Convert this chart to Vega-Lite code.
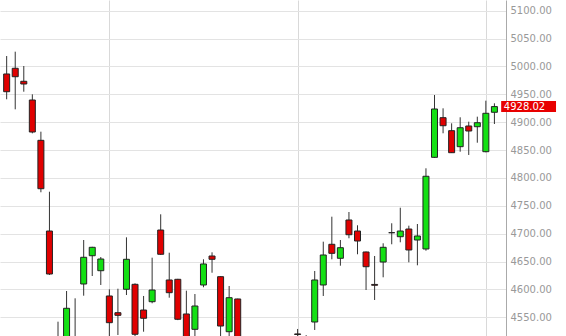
{
  "$schema": "https://vega.github.io/schema/vega-lite/v6.json",
  "width": 506,
  "height": 336,
  "autosize": {"type": "none"},
  "padding": {"left": 0, "top": 0, "right": 60, "bottom": 0},
  "background": "white",
  "view": {"stroke": null},
  "datasets": {
    "candles": [
      {"i": 0, "o": 4986.5, "h": 5018.7, "l": 4941.1, "c": 4954.7},
      {"i": 1, "o": 4996.7, "h": 5026.5, "l": 4923.1, "c": 4981.6},
      {"i": 2, "o": 4973.4, "h": 5000.8, "l": 4954.7, "c": 4968.5},
      {"i": 3, "o": 4939.8, "h": 4950.0, "l": 4880.0, "c": 4882.4},
      {"i": 4, "o": 4867.5, "h": 4883.0, "l": 4774.3, "c": 4780.7},
      {"i": 5, "o": 4704.8, "h": 4775.3, "l": 4626.0, "c": 4627.7},
      {"i": 6, "o": 4505.0, "h": 4542.2, "l": 4470.0, "c": 4480.0},
      {"i": 7, "o": 4495.0, "h": 4597.2, "l": 4485.0, "c": 4566.2},
      {"i": 8, "o": 4512.0, "h": 4584.1, "l": 4480.0, "c": 4500.0},
      {"i": 9, "o": 4609.8, "h": 4688.7, "l": 4588.8, "c": 4657.7},
      {"i": 10, "o": 4660.5, "h": 4676.5, "l": 4624.1, "c": 4675.6},
      {"i": 11, "o": 4633.6, "h": 4658.2, "l": 4608.0, "c": 4654.6},
      {"i": 12, "o": 4588.3, "h": 4600.3, "l": 4505.0, "c": 4540.4},
      {"i": 13, "o": 4558.3, "h": 4601.3, "l": 4518.3, "c": 4553.6},
      {"i": 14, "o": 4600.3, "h": 4693.5, "l": 4590.0, "c": 4654.1},
      {"i": 15, "o": 4609.2, "h": 4611.0, "l": 4515.0, "c": 4519.6},
      {"i": 16, "o": 4563.1, "h": 4588.3, "l": 4524.2, "c": 4548.3},
      {"i": 17, "o": 4578.0, "h": 4657.0, "l": 4575.2, "c": 4599.0},
      {"i": 18, "o": 4706.6, "h": 4734.8, "l": 4662.0, "c": 4663.1},
      {"i": 19, "o": 4617.0, "h": 4665.9, "l": 4585.2, "c": 4594.2},
      {"i": 20, "o": 4618.2, "h": 4619.0, "l": 4545.0, "c": 4546.5},
      {"i": 21, "o": 4556.0, "h": 4597.8, "l": 4495.0, "c": 4505.0},
      {"i": 22, "o": 4528.5, "h": 4591.8, "l": 4505.0, "c": 4570.3},
      {"i": 23, "o": 4608.0, "h": 4654.1, "l": 4603.9, "c": 4645.7},
      {"i": 24, "o": 4660.0, "h": 4666.6, "l": 4630.0, "c": 4654.1},
      {"i": 25, "o": 4622.9, "h": 4623.5, "l": 4505.0, "c": 4534.4},
      {"i": 26, "o": 4524.2, "h": 4606.2, "l": 4515.0, "c": 4585.2},
      {"i": 27, "o": 4582.9, "h": 4583.5, "l": 4490.0, "c": 4500.0},
      {"i": 28, "o": 4498.0, "h": 4510.0, "l": 4462.0, "c": 4470.0},
      {"i": 29, "o": 4472.0, "h": 4495.0, "l": 4448.0, "c": 4485.0},
      {"i": 30, "o": 4480.0, "h": 4500.0, "l": 4440.0, "c": 4450.0},
      {"i": 31, "o": 4455.0, "h": 4490.0, "l": 4430.0, "c": 4478.0},
      {"i": 32, "o": 4475.0, "h": 4505.0, "l": 4455.0, "c": 4495.0},
      {"i": 33, "o": 4492.0, "h": 4512.0, "l": 4470.0, "c": 4505.0},
      {"i": 34, "o": 4520.2, "h": 4529.1, "l": 4500.0, "c": 4519.2},
      {"i": 35, "o": 4505.0, "h": 4518.0, "l": 4490.0, "c": 4512.0},
      {"i": 36, "o": 4541.6, "h": 4633.1, "l": 4527.3, "c": 4617.0},
      {"i": 37, "o": 4608.0, "h": 4685.7, "l": 4588.3, "c": 4661.8},
      {"i": 38, "o": 4681.0, "h": 4730.5, "l": 4654.1, "c": 4664.8},
      {"i": 39, "o": 4655.9, "h": 4688.7, "l": 4642.6, "c": 4674.9},
      {"i": 40, "o": 4724.6, "h": 4738.9, "l": 4691.8, "c": 4698.2},
      {"i": 41, "o": 4704.8, "h": 4715.1, "l": 4663.1, "c": 4686.9},
      {"i": 42, "o": 4667.2, "h": 4668.0, "l": 4599.0, "c": 4640.8},
      {"i": 43, "o": 4609.0, "h": 4660.0, "l": 4581.1, "c": 4607.5},
      {"i": 44, "o": 4649.2, "h": 4682.8, "l": 4621.8, "c": 4675.6},
      {"i": 45, "o": 4701.8, "h": 4718.7, "l": 4681.0, "c": 4701.8},
      {"i": 46, "o": 4694.6, "h": 4746.6, "l": 4684.6, "c": 4704.8},
      {"i": 47, "o": 4708.4, "h": 4714.4, "l": 4648.7, "c": 4670.8},
      {"i": 48, "o": 4688.7, "h": 4717.4, "l": 4643.3, "c": 4695.9},
      {"i": 49, "o": 4672.6, "h": 4817.3, "l": 4669.5, "c": 4803.0},
      {"i": 50, "o": 4837.0, "h": 4948.8, "l": 4836.0, "c": 4923.7},
      {"i": 51, "o": 4908.1, "h": 4924.9, "l": 4880.1, "c": 4893.7},
      {"i": 52, "o": 4884.8, "h": 4898.0, "l": 4845.0, "c": 4845.3},
      {"i": 53, "o": 4856.1, "h": 4908.8, "l": 4847.1, "c": 4890.1},
      {"i": 54, "o": 4893.2, "h": 4900.9, "l": 4841.2, "c": 4884.2},
      {"i": 55, "o": 4891.9, "h": 4909.9, "l": 4863.2, "c": 4899.1},
      {"i": 56, "o": 4847.1, "h": 4938.6, "l": 4846.0, "c": 4916.0},
      {"i": 57, "o": 4917.8, "h": 4933.9, "l": 4896.8, "c": 4928.02}
    ],
    "last": [{"value": 4928.02}]
  },
  "layer": [
    {
      "data": {"name": "candles"},
      "mark": {"type": "rule", "color": "#333333", "strokeWidth": 1, "clip": true},
      "encoding": {
        "x": {
          "field": "i", "type": "quantitative",
          "scale": {"domain": [-0.195, 57.77], "nice": false, "zero": false},
          "axis": {"values": [12, 34, 56], "tickCount": 10, "grid": true, "gridColor": "#d9d9d9", "labels": false, "ticks": false, "domain": false, "title": null}
        },
        "y": {
          "field": "l", "type": "quantitative",
          "scale": {"domain": [4516.5, 5119.2], "nice": false, "zero": false},
          "axis": {
            "orient": "right",
            "values": [4550, 4600, 4650, 4700, 4750, 4800, 4850, 4900, 4950, 5000, 5050, 5100],
            "tickCount": 20,
            "format": ".2f",
            "labelOverlap": false,
            "grid": true, "gridColor": "#e3e3e3",
            "ticks": false, "labelPadding": 4,
            "labelFont": "DejaVu Sans", "labelFontSize": 10, "labelColor": "#999999",
            "domainColor": "#aaaaaa", "title": null
          }
        },
        "y2": {"field": "h"}
      }
    },
    {
      "data": {"name": "candles"},
      "mark": {"type": "bar", "width": 6, "stroke": "#222222", "strokeWidth": 1, "clip": true},
      "encoding": {
        "x": {"field": "i", "type": "quantitative"},
        "y": {"field": "o", "type": "quantitative"},
        "y2": {"field": "c"},
        "fill": {
          "condition": {"test": "datum.c > datum.o", "value": "#14e014"},
          "value": "#e00000"
        }
      }
    },
    {
      "data": {"name": "last"},
      "mark": {"type": "rect", "height": 11, "color": "#e80000"},
      "encoding": {
        "x": {"datum": 57.79, "type": "quantitative"},
        "x2": {"datum": 64.2},
        "y": {"field": "value", "type": "quantitative"}
      }
    },
    {
      "data": {"name": "last"},
      "mark": {"type": "text", "align": "left", "baseline": "middle", "font": "DejaVu Sans", "fontSize": 10, "color": "white"},
      "encoding": {
        "x": {"datum": 58.1, "type": "quantitative"},
        "y": {"field": "value", "type": "quantitative"},
        "text": {"field": "value", "type": "quantitative", "format": ".2f"}
      }
    }
  ]
}
